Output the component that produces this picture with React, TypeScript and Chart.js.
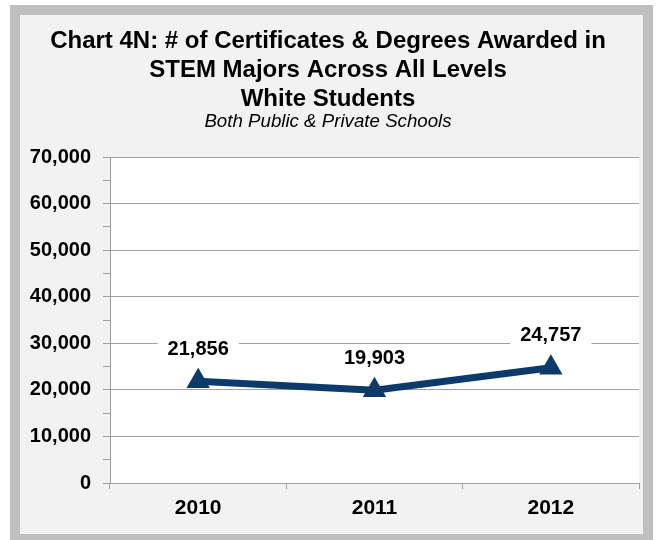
import React, { useEffect, useRef } from "react";
import { Chart, registerables } from "chart.js";

Chart.register(...registerables);

const years = ["2010", "2011", "2012"];
const whiteStudents = [21856, 19903, 24757];
const yMin = 0;
const yMax = 70000;
const yMajorStep = 10000;
const yMinorStep = 5000;
const titleLines = [
  "Chart 4N: # of Certificates & Degrees Awarded in",
  "STEM Majors Across All Levels",
  "White Students",
];
const subtitle = "Both Public & Private Schools";

const FONT = "'Liberation Sans', Arial, sans-serif";
const LINE_COLOR = "#0b3a6b";
const GRID = "#a0a0a0";

const plotBg = {
  id: "plotBg",
  beforeDraw(chart: any) {
    const { ctx, chartArea } = chart;
    ctx.save();
    ctx.fillStyle = "#ffffff";
    ctx.fillRect(chartArea.left, chartArea.top, chartArea.right - chartArea.left, chartArea.bottom - chartArea.top);
    ctx.restore();
  },
};

const titlePlugin = {
  id: "titleBlock",
  afterDraw(chart: any) {
    const ctx = chart.ctx;
    const cx = 308;
    const baselines = [33, 62, 91];
    ctx.save();
    ctx.fillStyle = "#000";
    ctx.textAlign = "center";
    ctx.textBaseline = "alphabetic";
    ctx.font = `bold 24px ${FONT}`;
    titleLines.forEach((t, i) => ctx.fillText(t, cx, baselines[i]));
    ctx.font = `italic 18.7px ${FONT}`;
    ctx.fillText(subtitle, cx, 112);
    ctx.restore();
  },
};

const dataLabels = {
  id: "dataLabels",
  afterDatasetsDraw(chart: any) {
    const ctx = chart.ctx;
    const meta = chart.getDatasetMeta(0);
    const ds = chart.data.datasets[0];
    ctx.save();
    ctx.font = `bold 20px ${FONT}`;
    ctx.textAlign = "center";
    ctx.textBaseline = "middle";
    meta.data.forEach((pt: any, i: number) => {
      const text = Number(ds.data[i]).toLocaleString("en-US");
      const w = ctx.measureText(text).width;
      const x = pt.x;
      const y = pt.y - 33;
      ctx.fillStyle = "#ffffff";
      ctx.fillRect(x - w / 2 - 10, y - 12, w + 20, 24);
      ctx.fillStyle = "#000";
      ctx.fillText(text, x, y + 1);
    });
    ctx.restore();
  },
};

export default function App() {
  const ref = useRef<HTMLCanvasElement>(null);
  useEffect(() => {
    if (!ref.current) return;
    const chart = new Chart(ref.current, {
      type: "line",
      data: {
        labels: years,
        datasets: [
          {
            label: "White Students",
            data: whiteStudents,
            borderColor: LINE_COLOR,
            backgroundColor: LINE_COLOR,
            borderWidth: 7,
            pointStyle: "triangle",
            pointRadius: 12,
            pointBorderWidth: 1.5,
            pointBackgroundColor: LINE_COLOR,
            pointBorderColor: LINE_COLOR,
            tension: 0,
            fill: false,
          },
        ],
      },
      options: {
        responsive: false,
        animation: false,
        devicePixelRatio: 1,
        layout: { autoPadding: false, padding: { top: 142, left: 9, right: 4, bottom: 15 } },
        plugins: {
          legend: { display: false },
          tooltip: { enabled: false },
          title: { display: false },
        },
        scales: {
          x: {
            type: "category",
            offset: true,
            grid: {
              offset: true,
              drawOnChartArea: false,
              drawTicks: true,
              tickLength: 6,
              color: GRID,
            },
            border: { color: GRID, width: 1 },
            ticks: {
              color: "#000",
              padding: 7,
              maxRotation: 0,
              font: { family: FONT, size: 21, weight: "bold" },
            },
            afterFit: (s: any) => {
              s.height = 36;
              s.paddingLeft = 0;
              s.paddingRight = 0;
            },
          },
          y: {
            min: yMin,
            max: yMax,
            grid: {
              color: (c: any) => (c.tick && c.tick.value % yMajorStep === 0 ? GRID : "rgba(0,0,0,0)"),
              tickColor: GRID,
              tickLength: 7,
            },
            border: { color: GRID, width: 1 },
            ticks: {
              stepSize: yMinorStep,
              autoSkip: false,
              color: "#000",
              padding: 12,
              font: { family: FONT, size: 20, weight: "bold" },
              callback: (v: any) => (Number(v) % yMajorStep === 0 ? Number(v).toLocaleString("en-US") : ""),
            },
            afterFit: (s: any) => {
              s.width = 81;
              s.paddingTop = 0;
              s.paddingBottom = 0;
            },
          },
        },
      },
      plugins: [plotBg, titlePlugin, dataLabels],
    });
    return () => chart.destroy();
  }, []);

  return (
    <div
      style={{
        position: "absolute",
        left: 10,
        top: 5,
        width: 623,
        height: 519,
        border: "10px solid #bfbfbf",
        background: "#f2f2f2",
      }}
    >
      <canvas ref={ref} width={623} height={519} style={{ display: "block" }} />
    </div>
  );
}
